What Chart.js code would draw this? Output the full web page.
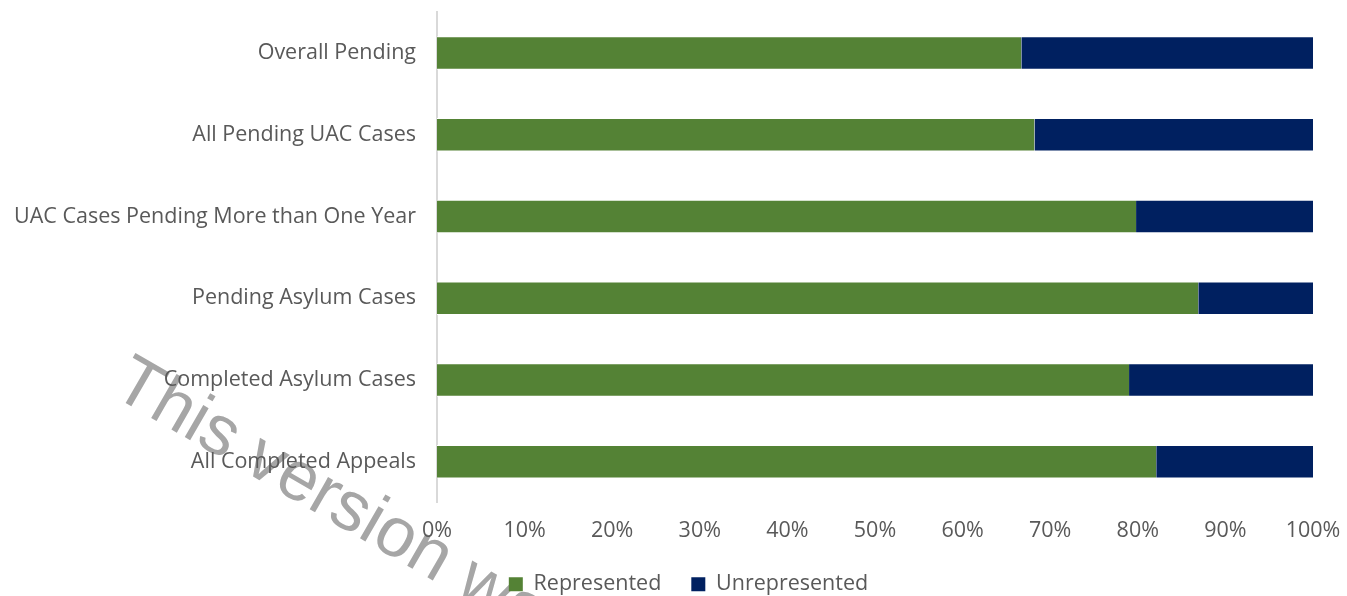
<!DOCTYPE html>
<html>
<head>
<meta charset="utf-8">
<script src="https://cdn.jsdelivr.net/npm/chart.js@4/dist/chart.umd.min.js"></script>
<style>
  html, body { margin: 0; padding: 0; background: #fff; }
  #wrap { width: 1347px; height: 596px; }
</style>
</head>
<body>
<div id="wrap"><canvas id="chart" width="1347" height="596"></canvas></div>
<script>
// chart data
const categories = [
  "Overall Pending",
  "All Pending UAC Cases",
  "UAC Cases Pending More than One Year",
  "Pending Asylum Cases",
  "Completed Asylum Cases",
  "All Completed Appeals"
];
const represented = [66.7, 68.2, 79.8, 86.9, 79.0, 82.1];
const unrepresented = [33.3, 31.8, 20.2, 13.1, 21.0, 17.9];
const tickLabels = ["0%", "10%", "20%", "30%", "40%", "50%", "60%", "70%", "80%", "90%", "100%"];

const textColor = "#595959";
const fontFamily = "'Open Sans', 'Liberation Sans', sans-serif";
const fontSize = 21.5;

// grey watermark behind everything, rotated down to the right
const watermark = {
  id: "watermark",
  beforeDraw(chart) {
    const ctx = chart.ctx;
    ctx.save();
    ctx.translate(110, 394);
    ctx.rotate(30 * Math.PI / 180);
    ctx.font = "70px 'Liberation Sans', sans-serif";
    ctx.fillStyle = "#a6a6a6";
    ctx.textBaseline = "alphabetic";
    ctx.fillText("This version was", 0, 0);
    ctx.restore();
  }
};

// legend sits closer to the tick labels than Chart.js leaves by default
const tightLegend = {
  id: "tightLegend",
  afterInit(chart) {
    const legend = chart.legend;
    const fit = legend.fit.bind(legend);
    legend.fit = function () {
      fit();
      this.height -= 15;
    };
  },
  afterLayout(chart) {
    const legend = chart.legend;
    legend.top -= 15;
    legend.height += 15;
    legend.left += 32;
    legend.right += 32;
  }
};

const ctx = document.getElementById("chart").getContext("2d");
new Chart(ctx, {
  type: "bar",
  data: {
    labels: categories,
    datasets: [
      {
        label: "Represented",
        data: represented,
        backgroundColor: "#548235",
        borderColor: "#ffffff",
        borderWidth: { top: 1, bottom: 1 },
        barPercentage: 0.41,
        categoryPercentage: 1
      },
      {
        label: "Unrepresented",
        data: unrepresented,
        backgroundColor: "#002060",
        borderColor: "#ffffff",
        borderWidth: { top: 1, bottom: 1 },
        barPercentage: 0.41,
        categoryPercentage: 1
      }
    ]
  },
  options: {
    indexAxis: "y",
    responsive: false,
    animation: false,
    layout: { padding: { top: 12, right: 34, bottom: -9, left: 0 } },
    scales: {
      x: {
        stacked: true,
        min: 0,
        max: 100,
        grid: { display: false, drawTicks: false },
        border: { display: false },
        ticks: {
          stepSize: 10,
          color: textColor,
          font: { family: fontFamily, size: fontSize },
          padding: 15,
          callback: (v, i) => tickLabels[i]
        },
        afterFit(scale) {
          scale.paddingLeft = 0;
          scale.paddingRight = 0;
        }
      },
      y: {
        stacked: true,
        grid: { display: false, drawTicks: false },
        border: { display: true, color: "#d9d9d9", width: 2 },
        ticks: {
          color: textColor,
          font: { family: fontFamily, size: fontSize },
          padding: 21
        },
        afterFit(scale) {
          scale.width = 437;
          scale.paddingTop = 0;
          scale.paddingBottom = 0;
        }
      }
    },
    plugins: {
      legend: {
        position: "bottom",
        labels: {
          color: textColor,
          font: { family: fontFamily, size: fontSize },
          boxWidth: 14,
          boxHeight: 14,
          padding: 30,
          generateLabels(chart) {
            return chart.data.datasets.map((ds, i) => ({
              text: ds.label,
              fillStyle: ds.backgroundColor,
              strokeStyle: ds.backgroundColor,
              lineWidth: 0,
              fontColor: textColor,
              datasetIndex: i
            }));
          }
        }
      },
      tooltip: { enabled: false }
    }
  },
  plugins: [watermark, tightLegend]
});
</script>
</body>
</html>
